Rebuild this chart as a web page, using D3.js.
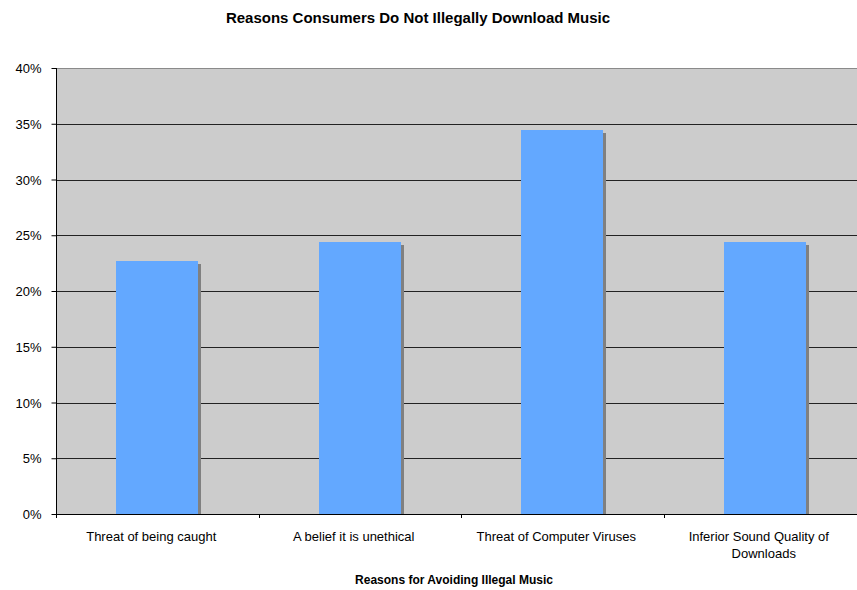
<!DOCTYPE html>
<html>
<head>
<meta charset="utf-8">
<script src="https://cdn.jsdelivr.net/npm/d3@7"></script>
<style>
  html, body { margin: 0; padding: 0; background: #ffffff; }
  svg { display: block; font-family: Arial, "Liberation Sans", sans-serif; }
</style>
</head>
<body>
<svg id="chart" width="857" height="590"></svg>
<script>
// Survey data: share of respondents citing each reason
const categories = [
  ["Threat of being caught"],
  ["A belief it is unethical"],
  ["Threat of Computer Viruses"],
  ["Inferior Sound Quality of", "Downloads"]
];
const values = [0.227, 0.244, 0.344, 0.244];
const yTicks = [0, 0.05, 0.10, 0.15, 0.20, 0.25, 0.30, 0.35, 0.40];

const svg = d3.select("#chart");
const plotLeft = 56, plotRight = 866, plotTop = 68, plotBottom = 514;

const x = d3.scaleBand()
  .domain(d3.range(categories.length))
  .range([plotLeft, plotRight])
  .padding(0);

const y = d3.scaleLinear()
  .domain([0, 0.40])
  .range([plotBottom, plotTop]);

const barW = x.bandwidth() * 0.405;

// Plot background
svg.append("rect")
  .attr("x", plotLeft).attr("y", plotTop)
  .attr("width", plotRight - plotLeft).attr("height", plotBottom - plotTop)
  .attr("fill", "#cccccc");

// Top border of plot area
svg.append("line")
  .attr("x1", plotLeft).attr("x2", plotRight)
  .attr("y1", plotTop + 0.5).attr("y2", plotTop + 0.5)
  .attr("stroke", "#8a8a8a");

// Horizontal gridlines
svg.append("g")
  .selectAll("line")
  .data(yTicks.filter(t => t > 0 && t < 0.40))
  .join("line")
  .attr("x1", plotLeft).attr("x2", plotRight)
  .attr("y1", d => Math.round(y(d)) + 0.5)
  .attr("y2", d => Math.round(y(d)) + 0.5)
  .attr("stroke", "#222222");

// Clip so bar shadows stop at the baseline
svg.append("clipPath").attr("id", "plotClip")
  .append("rect")
  .attr("x", plotLeft).attr("y", plotTop)
  .attr("width", plotRight - plotLeft).attr("height", plotBottom - plotTop);

const bars = svg.append("g").attr("clip-path", "url(#plotClip)");

// Shadows
bars.selectAll("rect.shadow")
  .data(values)
  .join("rect")
  .attr("class", "shadow")
  .attr("x", (d, i) => Math.round(x(i) + x.bandwidth() / 2 - barW / 2) + 3)
  .attr("y", d => Math.round(y(d)) + 3)
  .attr("width", Math.round(barW))
  .attr("height", d => plotBottom - Math.round(y(d)))
  .attr("fill", "#808080");

// Bars
bars.selectAll("rect.bar")
  .data(values)
  .join("rect")
  .attr("class", "bar")
  .attr("x", (d, i) => Math.round(x(i) + x.bandwidth() / 2 - barW / 2))
  .attr("y", d => Math.round(y(d)))
  .attr("width", Math.round(barW))
  .attr("height", d => plotBottom - Math.round(y(d)))
  .attr("fill", "#63a8ff");

// Y axis
const yAxis = d3.axisLeft(y)
  .tickValues(yTicks)
  .tickFormat(d3.format(".0%"))
  .tickSize(5)
  .tickPadding(10);

const gy = svg.append("g")
  .attr("transform", `translate(${plotLeft + 0.5},0)`)
  .call(yAxis);
gy.select(".domain").attr("stroke", "#000").attr("d", `M0,${plotTop}V${plotBottom + 4}`);
gy.selectAll(".tick line").attr("stroke", "#000");
gy.selectAll(".tick text")
  .attr("fill", "#000")
  .style("font-size", "13px")
  .attr("dy", "0.36em");

// X axis
const bounds = d3.range(categories.length + 1).map(i => plotLeft + i * x.bandwidth());
const gx = svg.append("g");
gx.append("line")
  .attr("x1", plotLeft).attr("x2", plotRight)
  .attr("y1", plotBottom + 0.5).attr("y2", plotBottom + 0.5)
  .attr("stroke", "#000");
gx.selectAll("line.tick")
  .data(bounds)
  .join("line")
  .attr("class", "tick")
  .attr("x1", d => Math.round(d) + 0.5).attr("x2", d => Math.round(d) + 0.5)
  .attr("y1", plotBottom).attr("y2", plotBottom + 4)
  .attr("stroke", "#000");

// Category labels
const labels = svg.append("g")
  .style("font-size", "13px")
  .attr("fill", "#000")
  .attr("text-anchor", "middle");
categories.forEach((lines, i) => {
  const cx = x(i) + x.bandwidth() / 2;
  const t = labels.append("text").attr("y", 541);
  lines.forEach((line, j) => {
    t.append("tspan")
      .attr("x", cx - (j === 0 ? 6 : 1))
      .attr("dy", j === 0 ? 0 : 17)
      .text(line);
  });
});

// Chart title
svg.append("text")
  .attr("x", 418).attr("y", 23)
  .attr("text-anchor", "middle")
  .style("font-size", "15px")
  .style("font-weight", "bold")
  .attr("fill", "#000")
  .text("Reasons Consumers Do Not Illegally Download Music");

// X axis title
svg.append("text")
  .attr("x", 454).attr("y", 584)
  .attr("text-anchor", "middle")
  .style("font-size", "12px")
  .style("font-weight", "bold")
  .attr("fill", "#000")
  .text("Reasons for Avoiding Illegal Music");
</script>
</body>
</html>
